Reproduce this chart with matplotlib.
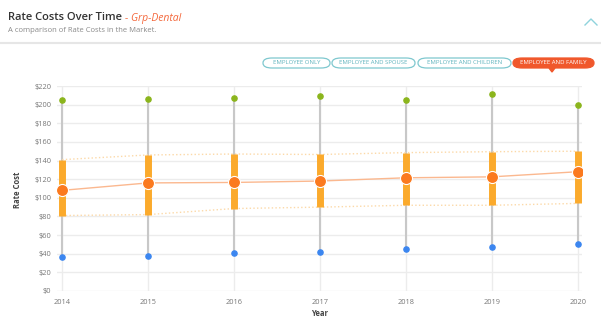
import matplotlib.pyplot as plt
from matplotlib.patches import FancyBboxPatch
from matplotlib.lines import Line2D

plt.rcParams['font.family'] = ['Open Sans', 'DejaVu Sans']

years = [2014, 2015, 2016, 2017, 2018, 2019, 2020]
maximo = [205, 206, 207, 209, 205, 211, 200]
minimo = [36.5, 37.5, 41, 41.5, 45.5, 47, 50]
cuartil_alto = [141, 146, 147, 146.5, 148.5, 149.5, 150]
cuartil_bajo = [81, 82, 88.5, 90, 92, 92, 94]
mediana = [108, 116, 116.5, 118, 121.5, 122.5, 128]

y_ticks = list(range(0, 221, 20))
botones = ['EMPLOYEE ONLY', 'EMPLOYEE AND SPOUSE', 'EMPLOYEE AND CHILDREN', 'EMPLOYEE AND FAMILY']

W, H = 601, 323
fig = plt.figure(figsize=(W / 100, H / 100), dpi=100)
fig.patch.set_facecolor('white')

def px(x, y):
    return x / W, 1 - y / H

# encabezado
titulo = fig.text(*px(8, 18), 'Rate Costs Over Time', fontsize=8, fontweight='semibold',
                  color='#333333', va='center')
fig.canvas.draw()
fin = titulo.get_window_extent().x1
fig.text(fin / W + 3 / W, 1 - 18 / H, '- Grp-Dental', fontsize=7.5, style='italic',
         color='#f4683c', va='center')
fig.text(*px(8, 31), 'A comparison of Rate Costs in the Market.', fontsize=5.5,
         color='#8a8a8a', va='center')
fig.add_artist(Line2D([0, 1], [1 - 43 / H] * 2, color='#e6e6e6', lw=1.5))
fig.add_artist(Line2D([585 / W, 591 / W, 597 / W], [1 - 25 / H, 1 - 19 / H, 1 - 25 / H],
                      color='#8fd3dc', lw=1))

# botones
posiciones = [(263, 330), (332, 415), (418, 511), (513, 594)]
for texto, (x0, x1) in zip(botones, posiciones):
    activo = texto == 'EMPLOYEE AND FAMILY'
    caja = FancyBboxPatch((x0 / W, 1 - 68 / H), (x1 - x0) / W, 10 / H,
                          boxstyle='round,pad=0,rounding_size=0.015',
                          transform=fig.transFigure,
                          facecolor='#f0582c' if activo else 'white',
                          edgecolor='#f0582c' if activo else '#7fc8cf', lw=0.9)
    fig.add_artist(caja)
    fig.text(((x0 + x1) / 2) / W, 1 - 63 / H, texto, fontsize=4.3,
             color='white' if activo else '#5fb3bd', ha='center', va='center')
fig.add_artist(plt.Polygon([px(549, 68), px(555, 68), px(552, 72)], closed=True,
                           transform=fig.transFigure, color='#f0582c'))

ax = fig.add_axes([57 / W, 1 - 291 / H, (582 - 57) / W, (291 - 86) / H])
ax.set_xlim(2013.94, 2020.05)
ax.set_ylim(0, 220)
ax.set_yticks(y_ticks)
ax.set_yticklabels([f'${v}' for v in y_ticks])
ax.set_xticks(years)
ax.tick_params(length=0, labelsize=5.3, labelcolor='#777777')
ax.tick_params(axis='y', pad=4)
ax.tick_params(axis='x', pad=6)
for s in ax.spines.values():
    s.set_visible(False)
ax.grid(True, color='#ececec', lw=1)
ax.set_axisbelow(True)

ax.vlines(years, minimo, maximo, color='#c8c8c8', lw=1.5, zorder=2)
ax.vlines(years, cuartil_bajo, cuartil_alto, color='#fbaa2c', lw=5, zorder=3)
ax.plot(years, cuartil_alto, ls=':', color='#fcd9a8', lw=1, zorder=2)
ax.plot(years, cuartil_bajo, ls=':', color='#fcd9a8', lw=1, zorder=2)
ax.plot(years, mediana, color='#fbb88f', lw=1, zorder=4)
ax.scatter(years, mediana, s=75, color='#fb7a1f', edgecolor='white', lw=0.8, zorder=5)
ax.scatter(years, maximo, s=14, color='#8bb51c', zorder=5)
ax.scatter(years, minimo, s=14, color='#3b86f0', zorder=5)

fig.text(*px(18, 190), 'Rate Cost', rotation=90, fontsize=5.5, fontweight='bold',
         color='#444444', ha='center', va='center')
fig.text(*px(320, 313), 'Year', fontsize=5.5, fontweight='bold', color='#444444',
         ha='center', va='center')

plt.savefig('out.png', dpi=100)
